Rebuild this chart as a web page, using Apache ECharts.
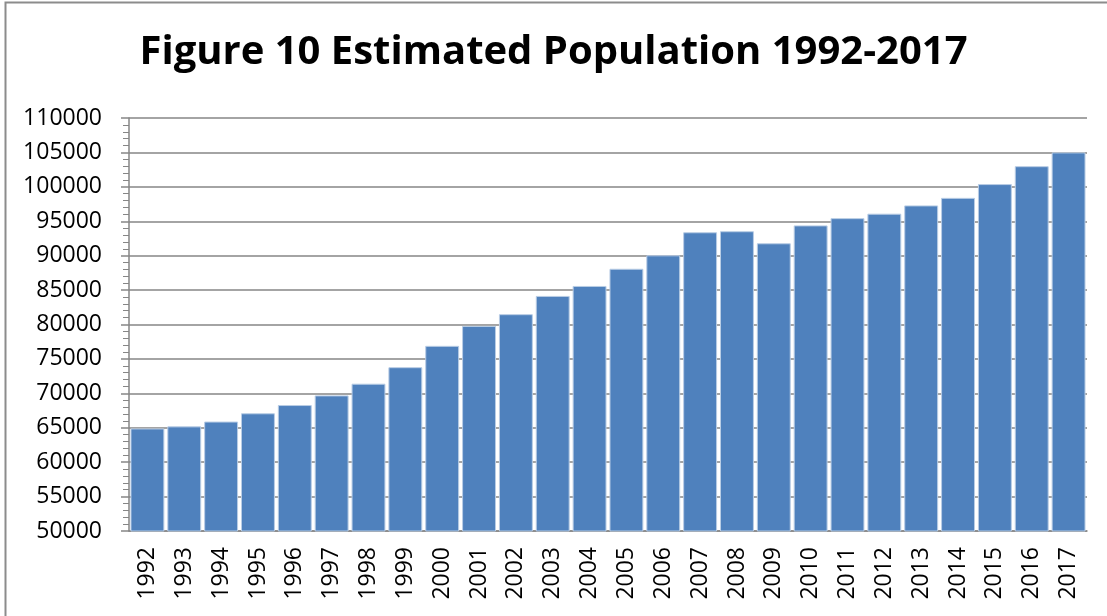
<!DOCTYPE html>
<html lang="en">
<head>
    <meta charset="UTF-8">
    <title>Figure 10 Estimated Population 1992-2017</title>
    <script src="https://cdn.jsdelivr.net/npm/echarts@6.0.0/dist/echarts.min.js"></script>
    <style>
        html, body { margin: 0; padding: 0; background: #fff; }
        #chart { width: 1107px; height: 616px; }
    </style>
</head>
<body>
    <div id="chart"></div>

    <script>
        const years = ['1992', '1993', '1994', '1995', '1996', '1997', '1998', '1999', '2000', '2001',
                       '2002', '2003', '2004', '2005', '2006', '2007', '2008', '2009', '2010', '2011',
                       '2012', '2013', '2014', '2015', '2016', '2017'];
        const population = [64900, 65200, 65900, 67100, 68300, 69700, 71400, 73800, 76900, 79800,
                            81500, 84150, 85600, 88100, 90050, 93400, 93550, 91800, 94400, 95450,
                            96100, 97300, 98400, 100400, 103000, 105000];

        const chart = echarts.init(document.getElementById('chart'));

        const axisGray = '#868686';
        const font = '"Open Sans", sans-serif';

        const option = {
            animation: false,
            title: {
                text: 'Figure 10 Estimated Population 1992-2017',
                left: 'center',
                top: 28,
                textStyle: { fontFamily: font, fontSize: 40, fontWeight: 'bold', color: '#000' }
            },
            graphic: [{
                type: 'rect',
                shape: { x: 5.5, y: 2.5, width: 1200, height: 700 },
                style: { fill: 'none', stroke: '#8c8c8c', lineWidth: 2 },
                silent: true
            }],
            grid: { left: 129, right: 20, top: 118, bottom: 85 },
            xAxis: [{
                type: 'category',
                data: years,
                axisLine: { lineStyle: { color: axisGray, width: 1.5 } },
                axisTick: { length: 9, lineStyle: { color: axisGray, width: 1.5 } },
                axisLabel: {
                    rotate: 90, margin: 16, interval: 0,
                    fontFamily: font, fontSize: 23, color: '#000'
                }
            }, {
                type: 'category',
                data: years,
                position: 'bottom',
                axisLine: { show: false },
                axisTick: { alignWithLabel: true, length: 6, lineStyle: { color: axisGray, width: 1.5 } },
                axisLabel: { show: false }
            }],
            yAxis: {
                type: 'value',
                min: 50000,
                max: 110000,
                interval: 5000,
                axisLine: { show: true, lineStyle: { color: axisGray, width: 1.5 } },
                axisTick: { show: true, length: 8, lineStyle: { color: axisGray, width: 1.5 } },
                minorTick: { show: true, splitNumber: 5, length: 6, lineStyle: { color: axisGray, width: 1 } },
                splitLine: { lineStyle: { color: axisGray, width: 1.5 } },
                axisLabel: {
                    margin: 27, fontFamily: font, fontSize: 23, color: '#000',
                    formatter: v => String(v)
                }
            },
            series: [{
                type: 'bar',
                data: population,
                barCategoryGap: '8%',
                itemStyle: { color: '#4f81bd', borderColor: '#b9cde5', borderWidth: 1 }
            }]
        };

        chart.setOption(option);
    </script>
</body>
</html>
